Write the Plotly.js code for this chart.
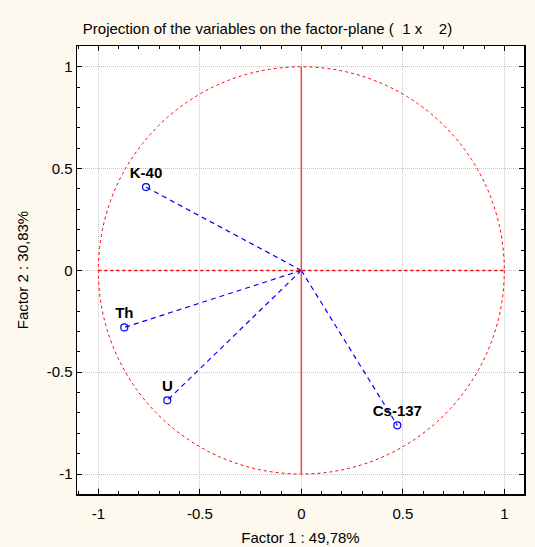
<!DOCTYPE html>
<html>
<head>
<meta charset="utf-8">
<script src="https://cdn.plot.ly/plotly-3.0.1.min.js"></script>
<style>html,body{margin:0;padding:0;background:#fdf9ee;}#chart{width:535px;height:547px;}</style>
</head>
<body>
<div id="chart"></div>
<script>
var variables = ["K-40", "Th", "U", "Cs-137"];
var factor1 = [-0.765, -0.872, -0.660, 0.473];
var factor2 = [0.409, -0.280, -0.638, -0.761];
var tickVals = [-1, -0.5, 0, 0.5, 1];
var tickText = ["-1", "-0.5", "0", "0.5", "1"];

var lx = [], ly = [];
for (var i = 0; i < variables.length; i++) {
  lx.push(0, factor1[i], null);
  ly.push(0, factor2[i], null);
}

var FONT = "Liberation Sans, Arial, sans-serif";

var traces = [
  {x: lx, y: ly, mode: "lines", type: "scatter",
   line: {color: "#0000ff", width: 1.2, dash: "5px,4px"}, hoverinfo: "skip", showlegend: false},
  {x: factor1, y: factor2, mode: "markers+text", type: "scatter",
   text: variables, textposition: "top center",
   textfont: {family: FONT, size: 15, color: "#000", weight: "bold"},
   marker: {symbol: "circle-open", size: 7, color: "#0000ff", line: {width: 1.2, color: "#0000ff"}},
   showlegend: false}
];

var axisCommon = {
  tickvals: tickVals, ticktext: tickText,
  ticks: "inside", ticklen: 5, tickcolor: "#000", tickwidth: 1,
  showline: true, linecolor: "#000", linewidth: 1.5, mirror: "ticks",
  showgrid: true, gridcolor: "#c4c4c4", griddash: "1px,1px", gridwidth: 1,
  zeroline: false,
  minor: {dtick: 0.1, ticks: "inside", ticklen: 3, tickcolor: "#000", showgrid: false},
  tickfont: {family: FONT, size: 15, color: "#000"}
};

var layout = {
  width: 535, height: 547,
  paper_bgcolor: "#fdf9ee", plot_bgcolor: "#ffffff",
  margin: {l: 77, r: 11, t: 46, b: 53},
  title: {text: "Projection of the variables on the factor-plane (  1 x    2)",
          font: {family: FONT, size: 15, color: "#000"},
          x: 0.5, xref: "container", xanchor: "center", y: 0.947, yref: "container", yanchor: "middle"},
  xaxis: Object.assign({}, axisCommon, {
    range: [-1.105, 1.097],
    ticklabelstandoff: 5,
    title: {text: "Factor 1 : 49,78%", font: {family: FONT, size: 15, color: "#000"}, standoff: 12}
  }),
  yaxis: Object.assign({}, axisCommon, {
    range: [-1.098, 1.102],
    title: {text: "Factor 2 : 30,83%", font: {family: FONT, size: 15, color: "#000"}, standoff: 14}
  }),
  shapes: [
    {type: "circle", xref: "x", yref: "y", x0: -1, x1: 1, y0: -1, y1: 1,
     line: {color: "#ff0000", width: 1, dash: "dot"}, layer: "above"},
    {type: "line", xref: "x", yref: "y", x0: -1, x1: 1, y0: 0, y1: 0,
     line: {color: "#ff0000", width: 1.5, dash: "dot"}, layer: "above"},
    {type: "line", xref: "x", yref: "y", x0: 0, x1: 0, y0: -1, y1: 1,
     line: {color: "#ff4040", width: 1.5}, layer: "above"}
  ],
  showlegend: false
};

Plotly.newPlot("chart", traces, layout, {displayModeBar: false, staticPlot: true});
</script>
</body>
</html>
